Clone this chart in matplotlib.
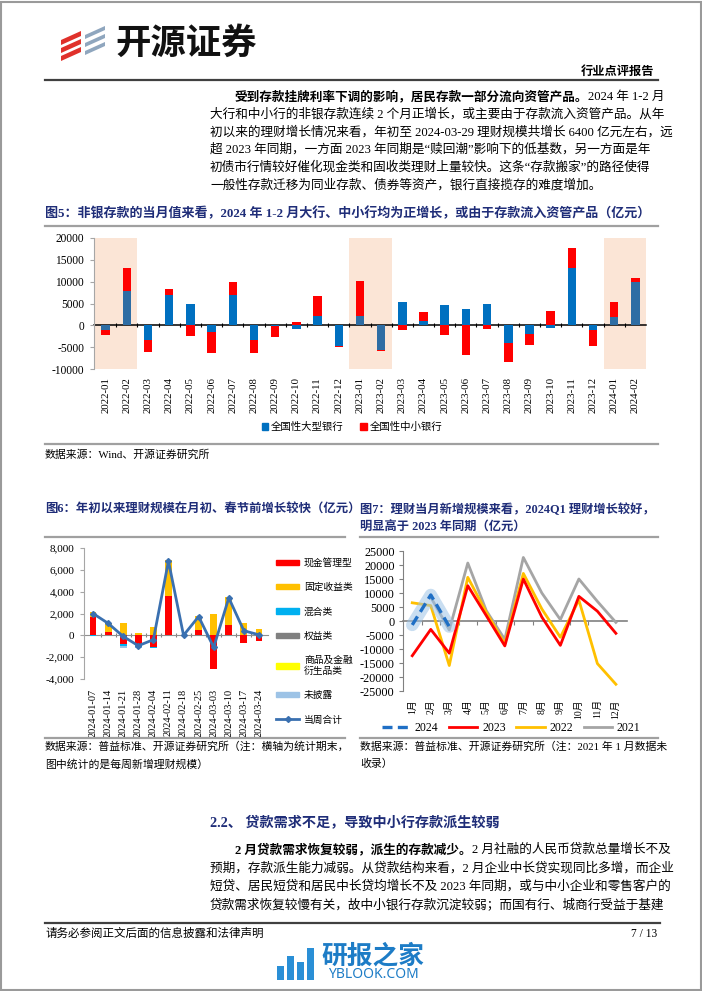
import matplotlib
matplotlib.use('Agg')
import matplotlib.pyplot as plt
import numpy as np
from matplotlib.patches import Patch, Polygon, Rectangle
from matplotlib.lines import Line2D

plt.rcParams['font.family'] = ['Liberation Serif', 'Noto Sans CJK SC', 'DejaVu Sans']
plt.rcParams['axes.unicode_minus'] = False

W, H = 702, 991
NAVY = '#1F2D78'

# ---------------- data: 图5 ----------------
months5 = ['2022-01', '2022-02', '2022-03', '2022-04', '2022-05', '2022-06', '2022-07',
           '2022-08', '2022-09', '2022-10', '2022-11', '2022-12', '2023-01', '2023-02',
           '2023-03', '2023-04', '2023-05', '2023-06', '2023-07', '2023-08', '2023-09',
           '2023-10', '2023-11', '2023-12', '2024-01', '2024-02']
big_banks = [-1150, 7900, -3450, 7050, 5000, -1550, 6900, -3250, -200, -900, 2150, -4750,
             2150, -5550, 5400, 1100, 4700, 3700, 4850, -4000, -1900, -550, 13150, -1100,
             1950, 9850]
small_banks = [-1000, 5200, -2550, 1250, -2450, -4900, 2950, -3150, -2550, 850, 4600, -100,
               8000, -350, -1000, 1850, -2250, -6700, -850, -4300, -2700, 3300, 4600, -3600,
               3300, 1000]
shaded5 = ['2022-01', '2022-02', '2023-01', '2023-02', '2024-01', '2024-02']

# ---------------- data: 图6 ----------------
weeks6 = ['2024-01-07', '2024-01-14', '2024-01-21', '2024-01-28', '2024-02-04', '2024-02-11',
          '2024-02-18', '2024-02-25', '2024-03-03', '2024-03-10', '2024-03-17', '2024-03-24']
cash_mgmt = [1650, 340, -750, -920, -1100, 3630, 0, 520, -3080, 980, -700, -520]
fixed_inc = [520, 790, 1100, 250, 800, 3240, 0, 1280, 1980, 2500, 1130, 580]
mixed = [-100, 0, -200, -30, -60, 0, 0, 0, 0, 0, 0, 0]
equity = [0, 0, 0, 0, 0, 0, 0, 0, 0, 0, 0, 0]
commodity = [0, 0, 0, 0, 0, 0, 0, 0, 0, 0, 0, 0]
undisclosed = [0, 0, -250, -240, 0, 0, 0, 0, 0, 0, 0, 0]
week_total = [2000, 1100, -100, -950, -400, 6800, 0, 1720, -1100, 3430, 420, 50]

# ---------------- data: 图7 ----------------
months7 = ['1月', '2月', '3月', '4月', '5月', '6月', '7月', '8月', '9月', '10月', '11月', '12月']
y2024 = [-1400, 9300, -2000]
y2023 = [-12400, -3000, -11500, 12600, 1900, -8900, 15000, 1400, -8700, 8800, 3500, -4400]
y2022 = [6500, 5500, -15900, 15600, 3100, -8200, 17000, 4300, -5800, 7500, -15200, -22600]
y2021 = [np.nan, 8500, -3200, 20700, 3700, -6600, 22700, 10000, 500, 15000, 7000, -500]


def fx(x):
    return x / W


def fy(y):
    return 1 - y / H


fig = plt.figure(figsize=(W / 100, H / 100), dpi=100)
renderer = fig.canvas.get_renderer()


def hline(x0, x1, y, color='#A0A0A0', lw=1.6):
    fig.add_artist(Line2D([fx(x0), fx(x1)], [fy(y), fy(y)], color=color, lw=lw))


def txt(x, y, s, size=9.1, weight='normal', color='black', ha='left', family=None):
    kw = {} if family is None else {'family': family}
    return fig.text(fx(x), fy(y), s, fontsize=size, fontweight=weight, color=color,
                    ha=ha, va='center', **kw)


def rich(x, y, parts, size=9.1):
    for s, w in parts:
        t = txt(x, y, s, size, w)
        x += t.get_window_extent(renderer).width


# page frame
fig.add_artist(Rectangle((0.001, 0.001), 0.997, 0.997, transform=fig.transFigure,
                         fill=False, ec='#9A9A9A', lw=1.5))

# logo
for k in range(3):
    fig.add_artist(Polygon([(fx(61), fy(40 + 8 * k)), (fx(81), fy(31 + 8 * k)),
                            (fx(81), fy(36 + 8 * k)), (fx(61), fy(45 + 8 * k))],
                           closed=True, fc='#E0312B', ec='none'))
    fig.add_artist(Polygon([(fx(85), fy(35 + 8 * k)), (fx(105), fy(26 + 8 * k)),
                            (fx(105), fy(30 + 8 * k)), (fx(85), fy(39 + 8 * k))],
                           closed=True, fc='#8FA6BE', ec='none'))
txt(115, 45, '开源证券', 25.5, 'bold', '#111111')
txt(654, 72, '行业点评报告', 8.8, 'bold', ha='right')
hline(45, 658, 80, '#404040', 1.6)

# paragraph 1
rich(235, 97, [('受到存款挂牌利率下调的影响，居民存款一部分流向资管产品。', 'bold'),
               ('2024 年 1-2 月', 'normal')])
para1 = ['大行和中小行的非银存款连续 2 个月正增长，或主要由于存款流入资管产品。从年',
         '初以来的理财增长情况来看，年初至 2024-03-29 理财规模共增长 6400 亿元左右，远',
         '超 2023 年同期，一方面 2023 年同期是“赎回潮”影响下的低基数，另一方面是年',
         '初债市行情较好催化现金类和固收类理财上量较快。这条“存款搬家”的路径使得',
         '一般性存款迁移为同业存款、债券等资产，银行直接揽存的难度增加。']
for i, s in enumerate(para1):
    txt(210, 114.5 + 17.6 * i, s)

# ---------------- 图5 ----------------
txt(45, 213, '图5：非银存款的当月值来看，2024 年 1-2 月大行、中小行均为正增长，或由于存款流入资管产品（亿元）',
    9.4, 'bold', NAVY)
hline(45, 658, 226)

ax5 = fig.add_axes([fx(94), fy(369), fx(646) - fx(94), fy(238) - fy(369)])
x5 = np.arange(len(months5))
b5 = np.array(big_banks)
s5 = np.array(small_banks)
for i, m in enumerate(months5):
    if m in shaded5:
        ax5.axvspan(i - 0.5, i + 0.5, color='#FBE5D6', lw=0, zorder=0)
blue_cols = ['#2E6DA4' if m in shaded5 else '#0070C0' for m in months5]
ax5.bar(x5, b5, width=0.4, color=blue_cols, zorder=2)
bottom_small = np.where(np.sign(s5) == np.sign(b5), b5, 0)
ax5.bar(x5, s5, width=0.4, bottom=bottom_small, color='#FF0000', zorder=2)
ax5.set_xlim(-0.55, len(months5) - 0.5)
ax5.set_ylim(-10000, 20000)
ax5.set_yticks(np.arange(-10000, 20001, 5000))
ax5.set_xticks(x5)
ax5.set_xticklabels(months5, rotation=90, fontsize=7.8)
ax5.tick_params(axis='x', length=0, pad=6)
ax5.tick_params(axis='y', labelsize=8.3, length=3, color='#A6A6A6', pad=4)
for sp in ['top', 'right', 'bottom']:
    ax5.spines[sp].set_visible(False)
ax5.spines['left'].set_color('#A6A6A6')
ax5.patch.set_alpha(0)
sec5 = ax5.secondary_xaxis(1 / 3)
sec5.set_xticks(x5[:-1] + 0.5)
sec5.tick_params(length=3, direction='inout', labelbottom=False, labeltop=False, width=0.8)
for sp in sec5.spines.values():
    sp.set_color('black')
    sp.set_linewidth(1.1)

fig.legend(handles=[Patch(color='#0070C0', label='全国性大型银行'),
                    Patch(color='#FF0000', label='全国性中小银行')],
           loc='center', bbox_to_anchor=(fx(352), fy(427)), ncol=2, frameon=False,
           fontsize=7.5, handlelength=0.6, handleheight=0.6, handletextpad=0.3,
           columnspacing=1.6)
hline(45, 658, 444)
txt(45, 455, '数据来源：Wind、开源证券研究所', 7.8)

# ---------------- 图6 ----------------
txt(45, 510, '图6：年初以来理财规模在月初、春节前增长较快（亿元）', 8.9, 'bold', NAVY)
hline(45, 345, 537)
ax6 = fig.add_axes([fx(84), fy(679), fx(268) - fx(84), fy(548) - fy(679)])
x6 = np.arange(len(weeks6))
series6 = [(cash_mgmt, '#FF0000', '现金管理型'), (fixed_inc, '#FFC000', '固定收益类'),
           (mixed, '#00B0F0', '混合类'), (equity, '#808080', '权益类'),
           (commodity, '#FFFF00', '商品及金融\n衍生品类'), (undisclosed, '#9DC3E6', '未披露')]
pos_b = np.zeros(len(weeks6))
neg_b = np.zeros(len(weeks6))
handles6 = []
for vals, col, lab in series6:
    v = np.array(vals, dtype=float)
    bot = np.where(v >= 0, pos_b, neg_b)
    ax6.bar(x6, v, width=0.45, bottom=bot, color=col, zorder=2)
    pos_b += np.where(v >= 0, v, 0)
    neg_b += np.where(v < 0, v, 0)
    handles6.append(Patch(color=col, label=lab))
ax6.plot(x6, week_total, color='#3A70B0', lw=2, marker='D', ms=3, zorder=3)
handles6.append(Line2D([], [], color='#3A70B0', lw=2, marker='D', ms=3, label='当周合计'))
ax6.set_xlim(-0.6, len(weeks6) - 0.4)
ax6.set_ylim(-4000, 8000)
ax6.set_yticks(np.arange(-4000, 8001, 2000))
ax6.yaxis.set_major_formatter(matplotlib.ticker.StrMethodFormatter('{x:,.0f}'))
ax6.set_xticks(x6)
ax6.set_xticklabels(weeks6, rotation=90, fontsize=7.5)
ax6.tick_params(axis='x', length=0, pad=7)
ax6.tick_params(axis='y', labelsize=8, length=3, color='#A6A6A6', pad=4)
for sp in ['top', 'right', 'bottom']:
    ax6.spines[sp].set_visible(False)
ax6.spines['left'].set_color('#A6A6A6')
ax6.patch.set_alpha(0)
sec6 = ax6.secondary_xaxis(1 / 3)
sec6.set_xticks(x6[:-1] + 0.5)
sec6.tick_params(length=3, direction='inout', labelbottom=False, labeltop=False,
                 color='#808080')
for sp in sec6.spines.values():
    sp.set_color('#909090')
fig.legend(handles=handles6, loc='upper left', bbox_to_anchor=(fx(271), fy(553)),
           frameon=False, fontsize=7, handlelength=2.4, handleheight=0.5,
           handletextpad=0.5, labelspacing=1.55, borderpad=0)
hline(45, 345, 738)
txt(45, 747, '数据来源：普益标准、开源证券研究所（注：横轴为统计期末，', 7.8)
txt(45, 764, '图中统计的是每周新增理财规模）', 7.8)

# ---------------- 图7 ----------------
txt(360, 510, '图7：理财当月新增规模来看，2024Q1 理财增长较好，', 8.8, 'bold', NAVY)
txt(360, 528, '明显高于 2023 年同期（亿元）', 8.8, 'bold', NAVY)
hline(360, 658, 537)
ax7 = fig.add_axes([fx(403), fy(691), fx(627) - fx(403), fy(551) - fy(691)])
x7 = np.arange(len(months7))
ax7.plot(x7, y2021, color='#A5A5A5', lw=2, label='2021', zorder=2)
ax7.plot(x7, y2022, color='#FFC000', lw=2, label='2022', zorder=3)
ax7.plot(x7, y2023, color='#FF0000', lw=2, label='2023', zorder=4)
ax7.plot(x7[:len(y2024)], y2024, color='#9DC3E6', lw=9, alpha=0.55,
         solid_capstyle='round', zorder=5)
ax7.plot(x7[:len(y2024)], y2024, color='#1F6FC5', lw=2.4, ls=(0, (3, 1.6)),
         label='2024', zorder=6)
ax7.set_xlim(-0.5, len(months7) - 0.4)
ax7.set_ylim(-25000, 25000)
ax7.set_yticks(np.arange(-25000, 25001, 5000))
ax7.set_xticks(x7)
ax7.set_xticklabels(months7, rotation=90, fontsize=7)
ax7.tick_params(axis='x', length=0, pad=6)
ax7.tick_params(axis='y', labelsize=8.8, length=3, color='#808080', pad=3)
for sp in ['top', 'right', 'bottom']:
    ax7.spines[sp].set_visible(False)
ax7.spines['left'].set_color('#808080')
ax7.patch.set_alpha(0)
sec7 = ax7.secondary_xaxis(0.5)
sec7.set_xticks(x7[:-1] + 0.5)
sec7.tick_params(length=3, direction='in', labelbottom=False, labeltop=False,
                 color='#808080')
for sp in sec7.spines.values():
    sp.set_color('#808080')
    sp.set_linewidth(1.2)
h7, l7 = ax7.get_legend_handles_labels()
order = [l7.index(k) for k in ['2024', '2023', '2022', '2021']]
fig.legend([h7[i] for i in order], [l7[i] for i in order], loc='center',
           bbox_to_anchor=(fx(511), fy(728)), ncol=4, frameon=False, fontsize=8.5,
           handlelength=2.4, handletextpad=0.4, columnspacing=0.9)
hline(360, 658, 738)
txt(360, 747, '数据来源：普益标准、开源证券研究所（注：2021 年 1 月数据未', 7.8)
txt(360, 764, '收录）', 7.8)

# ---------------- section 2.2 ----------------
txt(210, 823, '2.2、 贷款需求不足，导致中小行存款派生较弱', 10.2, 'bold', NAVY)
rich(235, 850, [('2 月贷款需求恢复较弱，派生的存款减少。', 'bold'),
                ('2 月社融的人民币贷款总量增长不及', 'normal')])
para2 = ['预期，存款派生能力减弱。从贷款结构来看，2 月企业中长贷实现同比多增，而企业',
         '短贷、居民短贷和居民中长贷均增长不及 2023 年同期，或与中小企业和零售客户的',
         '贷款需求恢复较慢有关，故中小银行存款沉淀较弱；而国有行、城商行受益于基建']
for i, s in enumerate(para2):
    txt(210, 868 + 18.3 * i, s)

hline(45, 660, 923, '#404040', 1.6)
txt(45, 934, '请务必参阅正文后面的信息披露和法律声明', 8.3)
txt(657, 934, '7 / 13', 8.3, ha='right')

# watermark
for k, hgt in enumerate([14, 24, 18, 32]):
    fig.add_artist(Rectangle((fx(277 + 10 * k), fy(980)), fx(7), hgt / H,
                             transform=fig.transFigure, fc='#2A8FD6', ec='none'))
txt(373, 956, '研报之家', 18.5, 'bold', '#1D7CC6', ha='center')
txt(373, 974, 'YBLOOK.COM', 10, 'normal', '#1D7CC6', ha='center',
    family=['Noto Sans', 'DejaVu Sans'])

fig.savefig('out.png', dpi=100)
